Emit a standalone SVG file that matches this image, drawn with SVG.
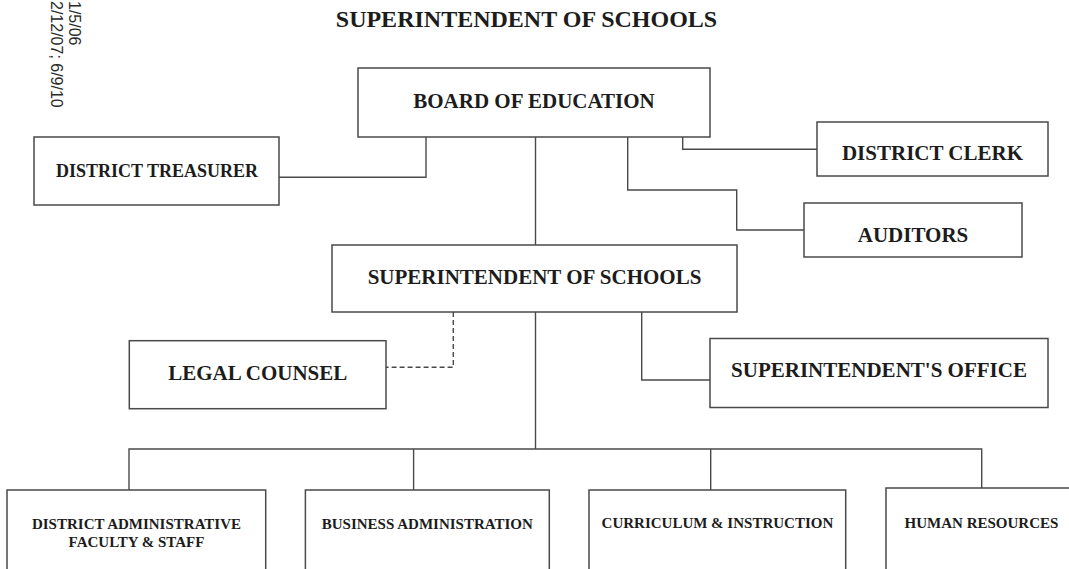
<svg xmlns="http://www.w3.org/2000/svg" width="1069" height="569" viewBox="0 0 1069 569">
  <style>
    .box { fill: #ffffff; stroke: #4a4a4a; stroke-width: 1.5; }
    .lbl { font-family: "Liberation Serif", "Times New Roman", serif; font-weight: bold; fill: #1c1c1c; text-anchor: middle; }
    .conn { fill: none; stroke: #4a4a4a; stroke-width: 1.4; }
    .dash { stroke-dasharray: 5 3; }
    .date { font-family: "Liberation Sans", Arial, sans-serif; font-size: 16px; fill: #2a2a2a; }
  </style>
  <rect x="0" y="0" width="1069" height="569" fill="#ffffff"/>

  <g id="revision-dates">
    <text class="date" transform="translate(68.5,1) rotate(90)">1/5/06</text>
    <text class="date" transform="translate(50.5,1) rotate(90)">2/12/07; 6/9/10</text>
  </g>

  <g id="title">
    <text class="lbl" x="526.5" y="26.5" font-size="24">SUPERINTENDENT OF SCHOOLS</text>
  </g>

  <g id="connectors">
    <path class="conn" d="M535.5,137 V245"/>
    <path class="conn" d="M535.5,312 V449"/>
    <path class="conn" d="M426,137 V177.3 H279"/>
    <path class="conn" d="M682.7,137 V149.3 H817"/>
    <path class="conn" d="M627.7,137 V190 H736.7 V230 H804"/>
    <path class="conn dash" d="M453.3,312 V367.3 H386"/>
    <path class="conn" d="M641.7,312 V380 H710"/>
    <path class="conn" d="M129,490 V449 H981.7 V488"/>
    <path class="conn" d="M413.6,449 V490"/>
    <path class="conn" d="M710.7,449 V490"/>
  </g>

  <g id="board-of-education">
    <rect class="box" x="358" y="68" width="352" height="69"/>
    <text class="lbl" x="534" y="108" font-size="21">BOARD OF EDUCATION</text>
  </g>

  <g id="district-treasurer">
    <rect class="box" x="34" y="137" width="245" height="68"/>
    <text class="lbl" x="157" y="176.7" font-size="18">DISTRICT TREASURER</text>
  </g>

  <g id="district-clerk">
    <rect class="box" x="817" y="122" width="231" height="54"/>
    <text class="lbl" x="932.5" y="160" font-size="21">DISTRICT CLERK</text>
  </g>

  <g id="auditors">
    <rect class="box" x="804" y="203" width="218" height="54"/>
    <text class="lbl" x="913" y="242" font-size="21">AUDITORS</text>
  </g>

  <g id="superintendent-of-schools">
    <rect class="box" x="332" y="245" width="405" height="67"/>
    <text class="lbl" x="534.5" y="284.3" font-size="21">SUPERINTENDENT OF SCHOOLS</text>
  </g>

  <g id="legal-counsel">
    <rect class="box" x="129.3" y="340.7" width="256.7" height="68"/>
    <text class="lbl" x="257.7" y="380" font-size="21">LEGAL COUNSEL</text>
  </g>

  <g id="superintendents-office">
    <rect class="box" x="710" y="338.5" width="338" height="69"/>
    <text class="lbl" x="879" y="377.3" font-size="21">SUPERINTENDENT'S OFFICE</text>
  </g>

  <g id="district-administrative-faculty-staff">
    <rect class="box" x="7" y="490" width="258.7" height="100"/>
    <text class="lbl" x="136.5" y="529.3" font-size="15">DISTRICT ADMINISTRATIVE</text>
    <text class="lbl" x="136.5" y="547.3" font-size="15">FACULTY &amp; STAFF</text>
  </g>

  <g id="business-administration">
    <rect class="box" x="305.4" y="490" width="243.9" height="100"/>
    <text class="lbl" x="427.3" y="528.8" font-size="15">BUSINESS ADMINISTRATION</text>
  </g>

  <g id="curriculum-instruction">
    <rect class="box" x="589" y="490" width="256.7" height="100"/>
    <text class="lbl" x="717.4" y="528.3" font-size="15">CURRICULUM &amp; INSTRUCTION</text>
  </g>

  <g id="human-resources">
    <rect class="box" x="886" y="488" width="191" height="100"/>
    <text class="lbl" x="981.5" y="527.5" font-size="15">HUMAN RESOURCES</text>
  </g>
</svg>
